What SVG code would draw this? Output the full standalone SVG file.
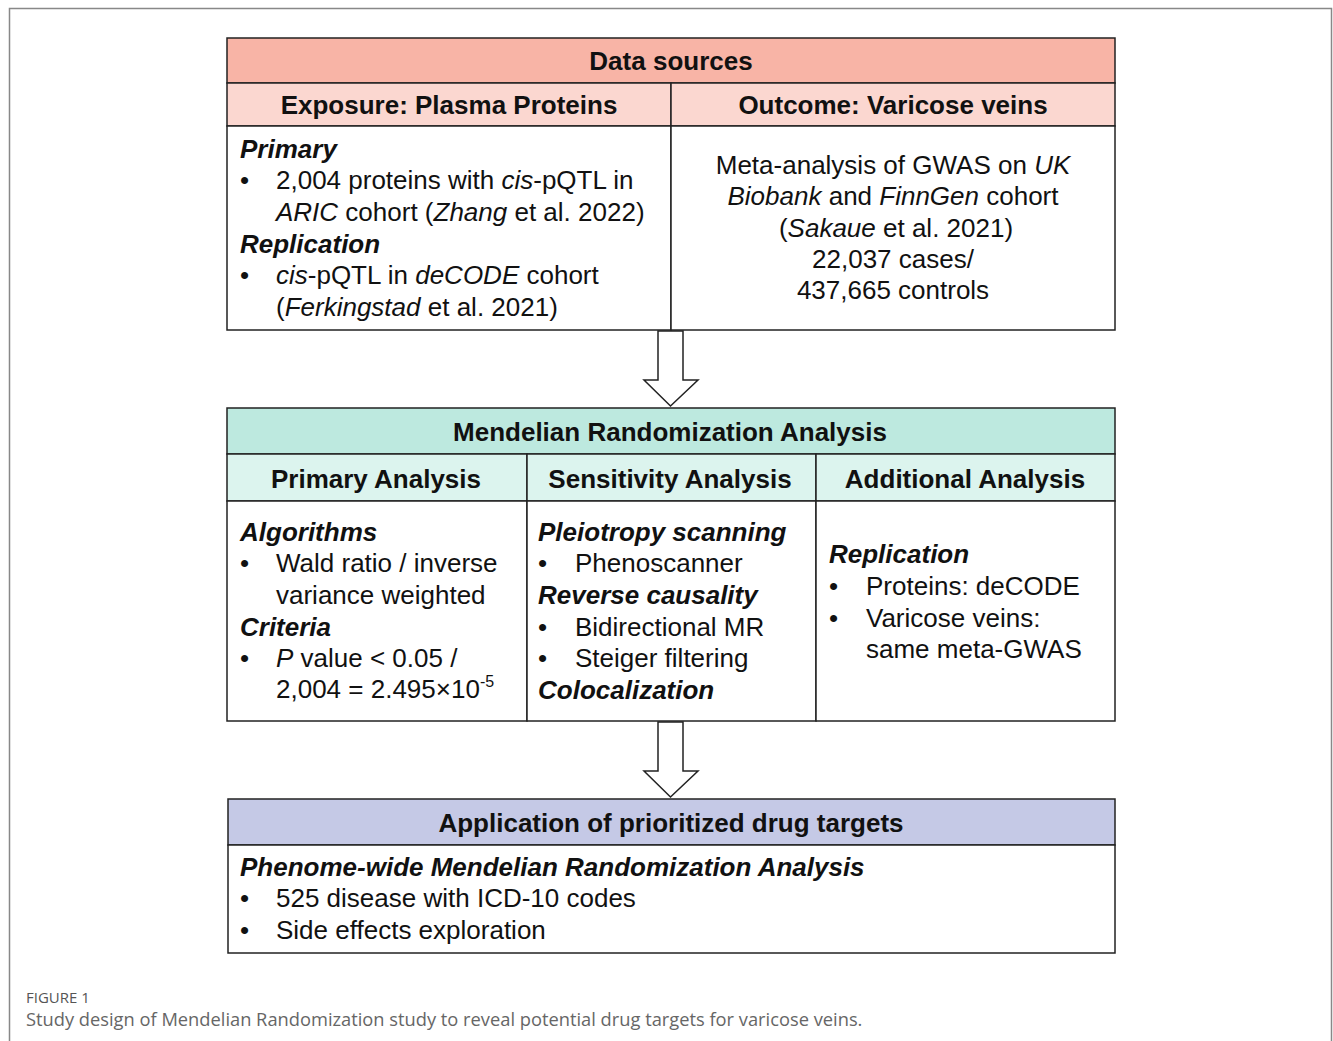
<svg xmlns="http://www.w3.org/2000/svg" width="1333" height="1041" viewBox="0 0 1333 1041">
<style>
.t{font-family:"Liberation Sans",Arial,sans-serif;font-size:26px;fill:#111}
.b{font-weight:bold}
.i{font-style:italic}
.bi{font-weight:bold;font-style:italic}
.c{text-anchor:middle}
.box{stroke:#222;stroke-width:1.5}
.arrow{fill:#fff;stroke:#222;stroke-width:1.5}
.cap1{font-family:"Open Sans","Noto Sans",sans-serif;font-size:15px;fill:#555}
.cap2{font-family:"Open Sans","Noto Sans",sans-serif;font-size:18.3px;fill:#666}
</style>
<rect x="0" y="0" width="1333" height="1041" fill="#fff"/>
<path d="M9.5 1041 V8.5 H1331.5 V1041" fill="none" stroke="#888" stroke-width="1.5"/>

<g id="data-sources">
<rect class="box" x="227" y="38" width="888" height="45" fill="#f8b4a6"/>
<rect class="box" x="227" y="83" width="444" height="43" fill="#fbd7d0"/>
<rect class="box" x="671" y="83" width="444" height="43" fill="#fbd7d0"/>
<rect class="box" x="227" y="126" width="444" height="204" fill="#fff"/>
<rect class="box" x="671" y="126" width="444" height="204" fill="#fff"/>
<text class="t b c" x="671" y="70">Data sources</text>
<text class="t b c" x="449" y="114">Exposure: Plasma Proteins</text>
<text class="t b c" x="893" y="114">Outcome: Varicose veins</text>
<text class="t bi" x="240" y="158">Primary</text>
<text class="t" x="240" y="189">•</text>
<text class="t" x="276" y="189">2,004 proteins with <tspan class="i">cis</tspan>-pQTL in</text>
<text class="t" x="276" y="221"><tspan class="i">ARIC</tspan> cohort (<tspan class="i">Zhang</tspan> et al. 2022)</text>
<text class="t bi" x="240" y="253">Replication</text>
<text class="t" x="240" y="284">•</text>
<text class="t" x="276" y="284"><tspan class="i">cis</tspan>-pQTL in <tspan class="i">deCODE</tspan> cohort</text>
<text class="t" x="276" y="316">(<tspan class="i">Ferkingstad</tspan> et al. 2021)</text>
<text class="t c" x="893" y="174">Meta-analysis of GWAS on <tspan class="i">UK</tspan></text>
<text class="t c" x="893" y="205"><tspan class="i">Biobank</tspan> and <tspan class="i">FinnGen</tspan> cohort</text>
<text class="t c" x="896" y="237">(<tspan class="i">Sakaue</tspan> et al. 2021)</text>
<text class="t c" x="893" y="268">22,037 cases/</text>
<text class="t c" x="893" y="299">437,665 controls</text>
</g>

<g id="mr-analysis">
<rect class="box" x="227" y="408" width="888" height="46" fill="#bde9df"/>
<rect class="box" x="227" y="454" width="300" height="47" fill="#dcf4ee"/>
<rect class="box" x="527" y="454" width="289" height="47" fill="#dcf4ee"/>
<rect class="box" x="816" y="454" width="299" height="47" fill="#dcf4ee"/>
<rect class="box" x="227" y="501" width="300" height="220" fill="#fff"/>
<rect class="box" x="527" y="501" width="289" height="220" fill="#fff"/>
<rect class="box" x="816" y="501" width="299" height="220" fill="#fff"/>
<text class="t b c" x="670" y="441">Mendelian Randomization Analysis</text>
<text class="t b c" x="376" y="488">Primary Analysis</text>
<text class="t b c" x="670" y="488">Sensitivity Analysis</text>
<text class="t b c" x="965" y="488">Additional Analysis</text>
<text class="t bi" x="240" y="541">Algorithms</text>
<text class="t" x="240" y="572">•</text>
<text class="t" x="276" y="572">Wald ratio / inverse</text>
<text class="t" x="276" y="604">variance weighted</text>
<text class="t bi" x="240" y="636">Criteria</text>
<text class="t" x="240" y="667">•</text>
<text class="t" x="276" y="667"><tspan class="i">P</tspan> value &lt; 0.05 /</text>
<text class="t" x="276" y="698">2,004 = 2.495×10<tspan font-size="16" dy="-11">-5</tspan></text>
<text class="t bi" x="538" y="541">Pleiotropy scanning</text>
<text class="t" x="538" y="572">•</text>
<text class="t" x="575" y="572">Phenoscanner</text>
<text class="t bi" x="538" y="604">Reverse causality</text>
<text class="t" x="538" y="636">•</text>
<text class="t" x="575" y="636">Bidirectional MR</text>
<text class="t" x="538" y="667">•</text>
<text class="t" x="575" y="667">Steiger filtering</text>
<text class="t bi" x="538" y="699">Colocalization</text>
<text class="t bi" x="829" y="563">Replication</text>
<text class="t" x="829" y="595">•</text>
<text class="t" x="866" y="595">Proteins: deCODE</text>
<text class="t" x="829" y="627">•</text>
<text class="t" x="866" y="627">Varicose veins:</text>
<text class="t" x="866" y="658">same meta-GWAS</text>
</g>

<g id="application">
<rect class="box" x="228" y="799" width="887" height="46" fill="#c5c9e6"/>
<rect class="box" x="228" y="845" width="887" height="108" fill="#fff"/>
<text class="t b c" x="671" y="832">Application of prioritized drug targets</text>
<text class="t bi" x="240" y="876">Phenome-wide Mendelian Randomization Analysis</text>
<text class="t" x="240" y="907">•</text>
<text class="t" x="276" y="907">525 disease with ICD-10 codes</text>
<text class="t" x="240" y="939">•</text>
<text class="t" x="276" y="939">Side effects exploration</text>
</g>

<g id="connectors">
<path class="arrow" d="M658 331 H683 V380 H698 L670.5 406 L644 380 H658 Z"/>
<path class="arrow" d="M658 722 H683 V771 H698 L670.5 797 L644 771 H658 Z"/>
</g>

<g id="caption">
<text class="cap1" x="26" y="1003">FIGURE 1</text>
<text class="cap2" x="26" y="1026">Study design of Mendelian Randomization study to reveal potential drug targets for varicose veins.</text>
</g>
</svg>
